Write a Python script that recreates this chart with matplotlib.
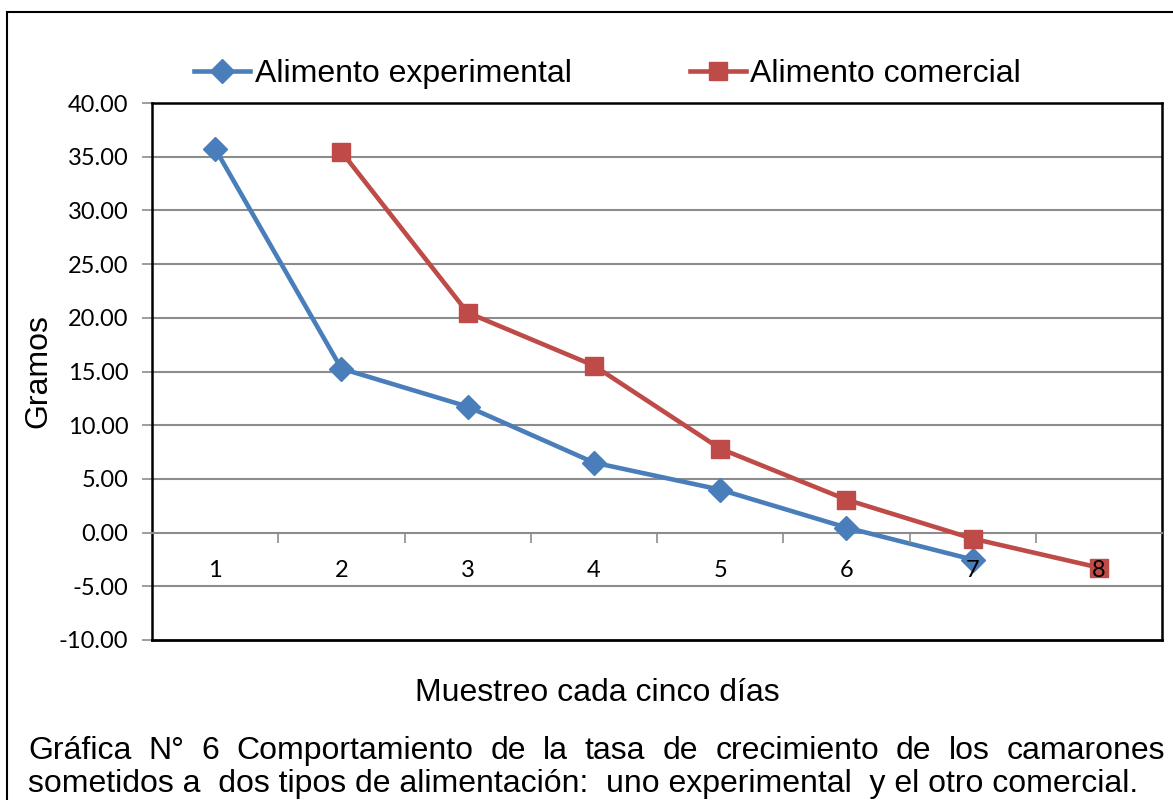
import matplotlib
matplotlib.use("Agg")
import matplotlib.pyplot as plt
from matplotlib.patches import Rectangle

# sampling rounds (one every five days)
muestreo = [1, 2, 3, 4, 5, 6, 7, 8]
exp_x = [1, 2, 3, 4, 5, 6, 7]
exp_y = [35.75, 15.27, 11.73, 6.52, 4.00, 0.47, -2.51]
com_x = [2, 3, 4, 5, 6, 7, 8]
com_y = [35.47, 20.48, 15.55, 7.82, 3.07, -0.56, -3.26]
y_ticks = [-10, -5, 0, 5, 10, 15, 20, 25, 30, 35, 40]

BLUE = "#4A7EBB"
RED = "#BE4B48"
GRID = "#8C8C8C"
MAIN_FONT = "Liberation Sans"
NUM_FONT = ["Lato", "DejaVu Sans"]

W, H = 1173, 800
fig = plt.figure(figsize=(W / 100, H / 100), dpi=100)
ax = fig.add_axes([152 / W, 1 - 640 / H, (1162 - 152) / W, (640 - 103) / H])

ax.plot(exp_x, exp_y, color=BLUE, lw=3.3, marker="D", ms=12.5, zorder=4,
        label="Alimento experimental")
ax.plot(com_x, com_y, color=RED, lw=3.3, marker="s", ms=12.5, zorder=4,
        label="Alimento comercial")

ax.set_xlim(0.5, 8.5)
ax.set_ylim(-10, 40)

# horizontal gridlines
for v in y_ticks[1:-1]:
    if v != 0:
        ax.axhline(v, color=GRID, lw=1.5, zorder=1)

# category axis crossing at zero
ax.spines["bottom"].set_position(("data", 0))
ax.spines["bottom"].set_color(GRID)
ax.spines["bottom"].set_linewidth(1.5)
ax.axhline(-10, color="black", lw=2, zorder=3, clip_on=False)
for s in ["left", "right", "top"]:
    ax.spines[s].set_color("black")
    ax.spines[s].set_linewidth(1.8)

ax.set_xticks(muestreo)
ax.set_xticks([m + 0.5 for m in muestreo[:-1]], minor=True)
ax.tick_params(axis="x", which="major", length=0, pad=20)
ax.tick_params(axis="x", which="minor", length=7, width=1.2, color=GRID, direction="out")
for lbl in ax.get_xticklabels():
    lbl.set_fontfamily(NUM_FONT)
    lbl.set_fontsize(17)
# category numbers sit on top of the markers
ax.xaxis.set_zorder(6)

ax.set_yticks(y_ticks)
ax.set_yticklabels([f"{v:.2f}" for v in y_ticks], fontfamily=NUM_FONT, fontsize=17)
ax.tick_params(axis="y", length=7, width=1.2, color=GRID, direction="out", pad=10)

ax.set_ylabel("Gramos", fontfamily=MAIN_FONT, fontsize=23, labelpad=4)

fig.text(597 / W, 1 - 693 / H, "Muestreo cada cinco días", fontfamily=MAIN_FONT,
         fontsize=23, ha="center", va="center")

fig.legend(loc="center left", bbox_to_anchor=(194 / W, 1 - 74 / H), ncol=2,
           frameon=False, prop={"family": MAIN_FONT, "size": 23},
           handlelength=1.75, handletextpad=0.15, columnspacing=3.7,
           borderaxespad=0, borderpad=0)

# outer frame
fig.patches.append(Rectangle((7 / W, -0.05), 1.1, 1 - 12 / H + 0.05, transform=fig.transFigure,
                             fill=False, edgecolor="black", lw=1.5))

# caption, first line justified
line1 = "Gráfica N° 6 Comportamiento de la tasa de crecimiento de los camarones".split(" ")
line2 = "sometidos a  dos tipos de alimentación:  uno experimental  y el otro comercial."
cap_kw = dict(fontfamily=MAIN_FONT, fontsize=23, va="center")
fig.canvas.draw()
r = fig.canvas.get_renderer()
x0, x1 = 28, 1165
words = [fig.text(0, 1 - 751 / H, w, **cap_kw) for w in line1]
widths = [t.get_window_extent(r).width for t in words]
gap = (x1 - x0 - sum(widths)) / (len(words) - 1)
x = x0
for t, w in zip(words, widths):
    t.set_x(x / W)
    x += w + gap
fig.text(x0 / W, 1 - 784 / H, line2, **cap_kw)

fig.savefig("out.png", dpi=100)
